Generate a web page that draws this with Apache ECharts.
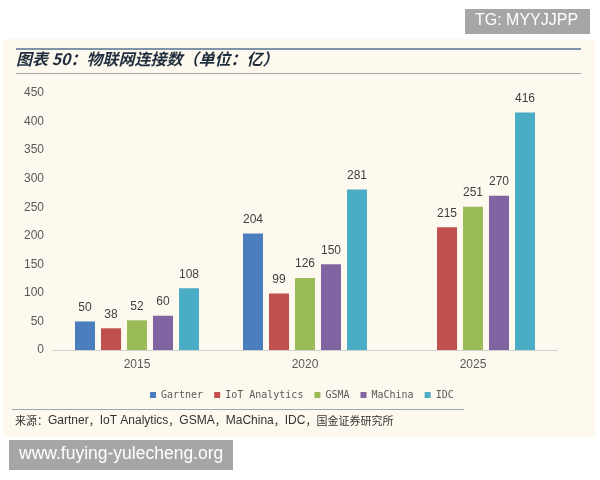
<!DOCTYPE html>
<html><head><meta charset="utf-8">
<script src="https://cdn.jsdelivr.net/npm/echarts@6/dist/echarts.min.js"></script>
<style>html,body{margin:0;padding:0;background:#fff}#c{width:600px;height:480px}</style>
</head><body><div id="c"></div>
<script>
const categories = ['2015', '2020', '2025'];
const seriesNames = ['Gartner', 'IoT Analytics', 'GSMA', 'MaChina', 'IDC'];
const gartner = [50, 204, null];
const iotAnalytics = [38, 99, 215];
const gsma = [52, 126, 251];
const machina = [60, 150, 270];
const idc = [108, 281, 416];
const yTicks = [0, 50, 100, 150, 200, 250, 300, 350, 400, 450];
const colors = ['#4a7ebf', '#c0504d', '#9bbb59', '#8064a2', '#4bacc6'];
const allData = [gartner, iotAnalytics, gsma, machina, idc];

const chart = echarts.init(document.getElementById('c'), null, {renderer: 'canvas'});
const option = {
  backgroundColor: '#ffffff',
  animation: false,
  graphic: [
    {type: 'rect', z: -10, shape: {x: 3, y: 39, width: 592, height: 398}, style: {fill: '#fdf9ee'}},
    {type: 'rect', shape: {x: 16, y: 48, width: 565, height: 2}, style: {fill: '#7f94a8'}},
    {type: 'rect', shape: {x: 16, y: 73, width: 565, height: 1}, style: {fill: '#a6a6a6'}},
    {type: 'rect', shape: {x: 12, y: 409, width: 452, height: 1}, style: {fill: '#9aa8b4'}},
    {type: 'text', left: 16, top: 51, style: {text: '图表 50：物联网连接数（单位：亿）', font: 'italic bold 16px "Noto Sans CJK SC", sans-serif', fill: '#1f2d3d'}},
    {type: 'text', left: 15, top: 415, style: {
      text: '{c|来源：}{l|Gartner}{c|，}{l|IoT Analytics}{c|，}{l|GSMA}{c|，}{l|MaChina}{c|，}{l|IDC}{c|，国金证券研究所}',
      rich: {
        c: {font: '11px "Noto Sans CJK SC", sans-serif', fill: '#333333'},
        l: {font: '12px "Liberation Sans", Arial, sans-serif', fill: '#333333'}
      }
    }},
    {type: 'rect', shape: {x: 465, y: 9, width: 125, height: 25}, style: {fill: '#a6a6a6'}},
    {type: 'text', left: 475, top: 13, style: {text: 'TG: MYYJJPP', font: '16px "Liberation Sans", Arial, sans-serif', fill: '#ffffff'}},
    {type: 'rect', shape: {x: 9, y: 440, width: 224, height: 30}, style: {fill: '#a6a6a6'}},
    {type: 'text', left: 19, top: 445, style: {text: 'www.fuying-yulecheng.org', font: '17.5px "Liberation Sans", Arial, sans-serif', fill: '#ffffff'}}
  ],
  legend: {
    data: seriesNames,
    top: 385,
    left: 145,
    icon: 'rect',
    itemWidth: 6,
    itemHeight: 6,
    itemGap: 11,
    textStyle: {fontSize: 10, color: '#595959', fontFamily: '"DejaVu Sans Mono", monospace'}
  },
  grid: {left: 53, right: 43, top: 93, bottom: 130, containLabel: false},
  xAxis: {
    type: 'category',
    data: categories,
    axisLine: {lineStyle: {color: '#d0d0d0'}},
    axisTick: {show: false},
    axisLabel: {color: '#595959', fontSize: 12, margin: 9, fontFamily: '"Liberation Sans", Arial, sans-serif'}
  },
  yAxis: {
    type: 'value',
    min: yTicks[0],
    max: yTicks[yTicks.length - 1],
    interval: 50,
    axisLine: {show: false},
    axisTick: {show: false},
    splitLine: {show: false},
    axisLabel: {color: '#595959', fontSize: 12, margin: 9, fontFamily: '"Liberation Sans", Arial, sans-serif'}
  },
  series: seriesNames.map((name, i) => ({
    name: name,
    type: 'bar',
    data: allData[i],
    barWidth: 20,
    barGap: '30%',
    itemStyle: {color: colors[i]},
    label: {show: true, position: 'top', distance: 8, color: '#404040', fontSize: 12, fontFamily: '"Liberation Sans", Arial, sans-serif'}
  }))
};
chart.setOption(option);
</script></body></html>
